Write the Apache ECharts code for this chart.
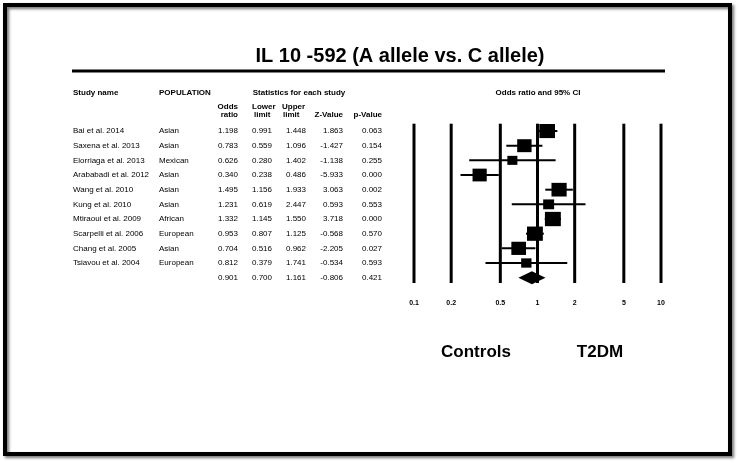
<!DOCTYPE html>
<html>
<head>
<meta charset="utf-8">
<script src="https://cdn.jsdelivr.net/npm/echarts@6/dist/echarts.min.js"></script>
<style>
html, body { margin: 0; padding: 0; background: #fff; }
#chart { width: 740px; height: 463px; }
</style>
</head>
<body>
<div id="chart"></div>
<script>
const studies = ['Bai et al. 2014', 'Saxena et al. 2013', 'Elorriaga et al. 2013', 'Arababadi et al. 2012',
    'Wang et al. 2010', 'Kung et al. 2010', 'Mtiraoui et al. 2009', 'Scarpelli et al. 2006',
    'Chang et al. 2005', 'Tsiavou et al. 2004'];
const populations = ['Asian', 'Asian', 'Mexican', 'Asian', 'Asian', 'Asian', 'African', 'European', 'Asian', 'European'];
const oddsRatio = [1.198, 0.783, 0.626, 0.340, 1.495, 1.231, 1.332, 0.953, 0.704, 0.812];
const lowerLimit = [0.991, 0.559, 0.280, 0.238, 1.156, 0.619, 1.145, 0.807, 0.516, 0.379];
const upperLimit = [1.448, 1.096, 1.402, 0.486, 1.933, 2.447, 1.550, 1.125, 0.962, 1.741];
const zValue = [1.863, -1.427, -1.138, -5.933, 3.063, 0.593, 3.718, -0.568, -2.205, -0.534];
const pValue = [0.063, 0.154, 0.255, 0.000, 0.002, 0.553, 0.000, 0.570, 0.027, 0.593];
const weights = [12.7, 10.7, 5.2, 10.4, 11.9, 6.2, 13.1, 13.0, 11.1, 5.5];
const summary = { or: 0.901, lower: 0.700, upper: 1.161, z: -0.806, p: 0.421 };
const ticks = [0.1, 0.2, 0.5, 1, 2, 5, 10];

const FONT = '"Liberation Sans", Arial, sans-serif';
const rows = studies.concat(['Combined']);

let chart = echarts.init(document.getElementById('chart'), null, { renderer: 'canvas' });

function txt(text, x, y, size, bold, align) {
    return {
        type: 'text',
        style: {
            text: text, x: x, y: y, fill: '#000',
            font: (bold ? 'bold ' : '') + size + 'px ' + FONT,
            textAlign: align || 'left', textVerticalAlign: 'middle'
        }
    };
}

let option = {
    backgroundColor: '#fff',
    animation: false,
    grid: [
        { left: 414, width: 247, top: 123.7, height: 161.3 },
        { left: 0, width: 740, top: 123.7, height: 161.3 }
    ],
    xAxis: [
        { type: 'log', logBase: 10, min: 0.1, max: 10, gridIndex: 0, show: false },
        { type: 'value', min: 0, max: 740, gridIndex: 1, show: false }
    ],
    yAxis: [
        { type: 'category', data: rows, inverse: true, gridIndex: 0, show: false },
        { type: 'category', data: rows, inverse: true, gridIndex: 1, show: false }
    ],
    graphic: [
        {
            type: 'rect', shape: { x: 5, y: 5, width: 725, height: 449 },
            style: { fill: 'none', stroke: '#000', lineWidth: 4, shadowBlur: 3, shadowOffsetX: 2, shadowOffsetY: 2, shadowColor: 'rgba(0,0,0,0.55)' }
        },
        txt('IL 10 -592 (A allele vs. C allele)', 400, 56, 20, true, 'center'),
        { type: 'line', shape: { x1: 72, y1: 71, x2: 665, y2: 71 }, style: { stroke: '#000', lineWidth: 3 } },
        txt('Study name', 73, 93, 8, true),
        txt('POPULATION', 159, 93, 8, true),
        txt('Statistics for each study', 299, 93, 8, true, 'center'),
        txt('Odds ratio and 95% CI', 538, 93, 8, true, 'center'),
        txt('Odds', 238, 107, 8, true, 'right'),
        txt('ratio', 238, 115, 8, true, 'right'),
        txt('Lower', 252, 107, 8, true),
        txt('limit', 254, 115, 8, true),
        txt('Upper', 282, 107, 8, true),
        txt('limit', 283, 115, 8, true),
        txt('Z-Value', 343, 115, 8, true, 'right'),
        txt('p-Value', 382, 115, 8, true, 'right'),
        txt('Controls', 476, 352, 17, true, 'center'),
        txt('T2DM', 600, 352, 17, true, 'center')
    ],
    series: [
        {
            // reference lines + tick labels
            type: 'custom',
            xAxisIndex: 0, yAxisIndex: 0,
            data: ticks.map(t => [t, 0]),
            renderItem: (params, api) => {
                let x = api.coord([api.value(0), 0])[0];
                let cs = params.coordSys;
                return {
                    type: 'group',
                    children: [
                        { type: 'line', shape: { x1: x, y1: cs.y, x2: x, y2: cs.y + cs.height - 2 }, style: { stroke: '#000', lineWidth: 3 } },
                        txt(String(api.value(0)), x, cs.y + cs.height + 18, 7, true, 'center')
                    ]
                };
            }
        },
        {
            // study squares + CI whiskers
            type: 'custom',
            xAxisIndex: 0, yAxisIndex: 0,
            encode: { x: [0, 1, 2], y: 3 },
            data: oddsRatio.map((v, i) => [v, lowerLimit[i], upperLimit[i], i, weights[i]]),
            renderItem: (params, api) => {
                let i = api.value(3);
                let c = api.coord([api.value(0), i]);
                let xl = api.coord([api.value(1), i])[0];
                let xu = api.coord([api.value(2), i])[0];
                let s = 4.4 * Math.sqrt(api.value(4));
                return {
                    type: 'group',
                    children: [
                        { type: 'line', shape: { x1: xl, y1: c[1], x2: xu, y2: c[1] }, style: { stroke: '#000', lineWidth: 2 } },
                        { type: 'rect', shape: { x: c[0] - s / 2, y: c[1] - s * 0.45, width: s, height: s * 0.9 }, style: { fill: '#000' } }
                    ]
                };
            }
        },
        {
            // combined diamond
            type: 'custom',
            xAxisIndex: 0, yAxisIndex: 0,
            encode: { x: [0, 1, 2], y: 3 },
            data: [[summary.or, summary.lower, summary.upper, 10]],
            renderItem: (params, api) => {
                let c = api.coord([api.value(0), 10]);
                let xl = api.coord([api.value(1), 10])[0];
                let xu = api.coord([api.value(2), 10])[0];
                let h = 6.5;
                return {
                    type: 'polygon',
                    shape: { points: [[xl, c[1]], [c[0], c[1] - h], [xu, c[1]], [c[0], c[1] + h]] },
                    style: { fill: '#000' }
                };
            }
        },
        {
            // table text
            type: 'custom',
            xAxisIndex: 1, yAxisIndex: 1,
            data: rows.map((r, i) => [0, i]),
            renderItem: (params, api) => {
                let i = api.value(1);
                let y = api.coord([0, i])[1];
                let combined = i === studies.length;
                let or = combined ? summary.or : oddsRatio[i];
                let lo = combined ? summary.lower : lowerLimit[i];
                let up = combined ? summary.upper : upperLimit[i];
                let z = combined ? summary.z : zValue[i];
                let p = combined ? summary.p : pValue[i];
                let children = [
                    txt(or.toFixed(3), 238, y, 8, false, 'right'),
                    txt(lo.toFixed(3), 272, y, 8, false, 'right'),
                    txt(up.toFixed(3), 306, y, 8, false, 'right'),
                    txt(z.toFixed(3), 343, y, 8, false, 'right'),
                    txt(p.toFixed(3), 382, y, 8, false, 'right')
                ];
                if (!combined) {
                    children.push(txt(studies[i], 73, y, 8, false));
                    children.push(txt(populations[i], 159, y, 8, false));
                }
                return { type: 'group', children: children };
            }
        }
    ]
};

chart.setOption(option);
</script>
</body>
</html>
